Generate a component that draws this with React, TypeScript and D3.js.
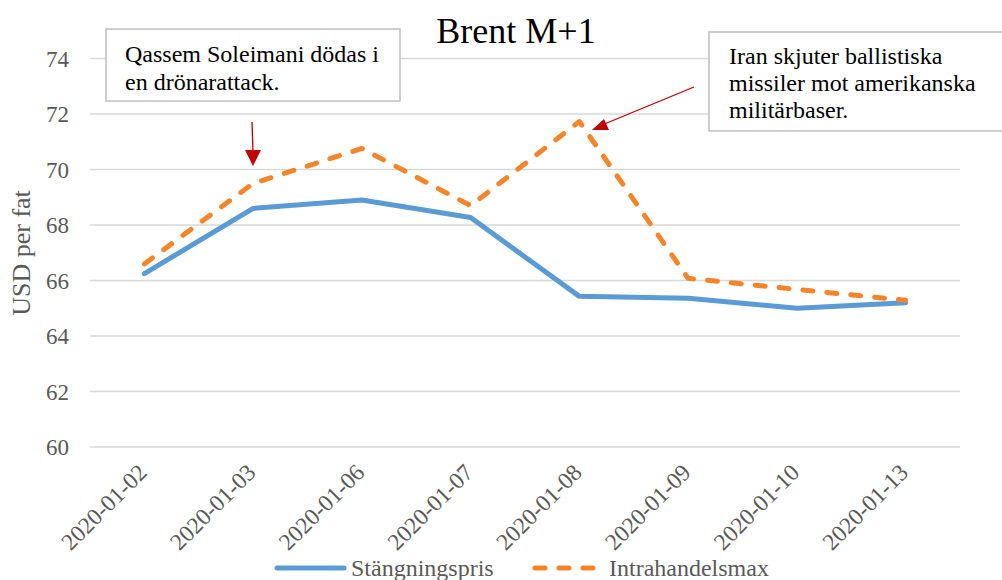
import React from "react";
import * as d3 from "d3";

const categories = ["2020-01-02", "2020-01-03", "2020-01-06", "2020-01-07", "2020-01-08", "2020-01-09", "2020-01-10", "2020-01-13"];
const closing = [66.25, 68.6, 68.9, 68.27, 65.43, 65.36, 65.0, 65.2];
const intradayMax = [66.6, 69.5, 70.76, 68.7, 71.73, 66.08, 65.68, 65.29];
const yTicks = [60, 62, 64, 66, 68, 70, 72, 74];
const seriesNames = ["Stängningspris", "Intrahandelsmax"];

const W = 1002, H = 580;
const FONT = "'Liberation Serif', 'Times New Roman', serif";

export default function App() {
  const x = d3.scaleBand<string>().domain(categories).range([90, 960]);
  const y = d3.scaleLinear().domain([60, 74]).range([447, 58.6]);
  const cx = (c: string) => (x(c) as number) + x.bandwidth() / 2;
  const line = d3.line<number>().x((_, i) => cx(categories[i])).y((d) => y(d));

  return (
    <svg width={W} height={H} style={{ position: "absolute", left: 0, top: 0, background: "#fff" }} fontFamily={FONT}>
      <rect width={W} height={H} fill="#fff" />
      {yTicks.map((t) => (
        <g key={t}>
          <line x1={90} x2={960} y1={y(t)} y2={y(t)} stroke="#D9D9D9" strokeWidth={1.5} />
          <text x={69} y={y(t)} dy="0.35em" textAnchor="end" fontSize={23} fill="#595959">{t}</text>
        </g>
      ))}
      <text transform={`translate(30,253) rotate(-90)`} textAnchor="middle" fontSize={26} fill="#595959">USD per fat</text>
      <text x={516} y={43} textAnchor="middle" fontSize={36} fill="#000">Brent M+1</text>
      {categories.map((c) => (
        <text key={c} transform={`translate(${cx(c) + 4},${474}) rotate(-45)`} textAnchor="end" fontSize={23.5} fill="#595959">{c}</text>
      ))}
      <path d={line(closing) || ""} fill="none" stroke="#5B9BD5" strokeWidth={5} strokeLinejoin="round" strokeLinecap="round" />
      <path d={line(intradayMax) || ""} fill="none" stroke="#F5852A" strokeWidth={5} strokeLinejoin="round" strokeLinecap="round" strokeDasharray="10 14" />

      <line x1={252} y1={122} x2={253} y2={152} stroke="#C00000" strokeWidth={1.3} />
      <path d="M245,150 L261,150 L253,166 z" fill="#C00000" />

      {/* annotation 1 */}
      <rect x={106} y={29} width={294} height={72} fill="#fff" stroke="#BFBFBF" strokeWidth={1.5} />
      <text x={125} y={62} fontSize={24} fill="#000">Qassem Soleimani dödas i</text>
      <text x={125} y={90} fontSize={24} fill="#000">en drönarattack.</text>

      {/* annotation 2 */}
      <rect x={709} y={32} width={300} height={99} fill="#fff" stroke="#BFBFBF" strokeWidth={1.5} />
      <text x={729} y={64} fontSize={24} fill="#000">Iran skjuter ballistiska</text>
      <text x={729} y={91} fontSize={24} fill="#000">missiler mot amerikanska</text>
      <text x={729} y={118} fontSize={24} fill="#000">militärbaser.</text>
      <line x1={694} y1={87} x2={602} y2={125} stroke="#C00000" strokeWidth={1.3} />
      <path d="M592,130 L604,119 L609,130 z" fill="#C00000" />

      {/* legend */}
      <line x1={277} x2={344} y1={568} y2={568} stroke="#5B9BD5" strokeWidth={5} strokeLinecap="round" />
      <text x={351} y={568} dy="0.35em" fontSize={24} fill="#595959">{seriesNames[0]}</text>
      <line x1={535} x2={596} y1={568} y2={568} stroke="#F5852A" strokeWidth={5} strokeLinecap="round" strokeDasharray="10 14" />
      <text x={609} y={568} dy="0.35em" fontSize={24} fill="#595959">{seriesNames[1]}</text>
    </svg>
  );
}
